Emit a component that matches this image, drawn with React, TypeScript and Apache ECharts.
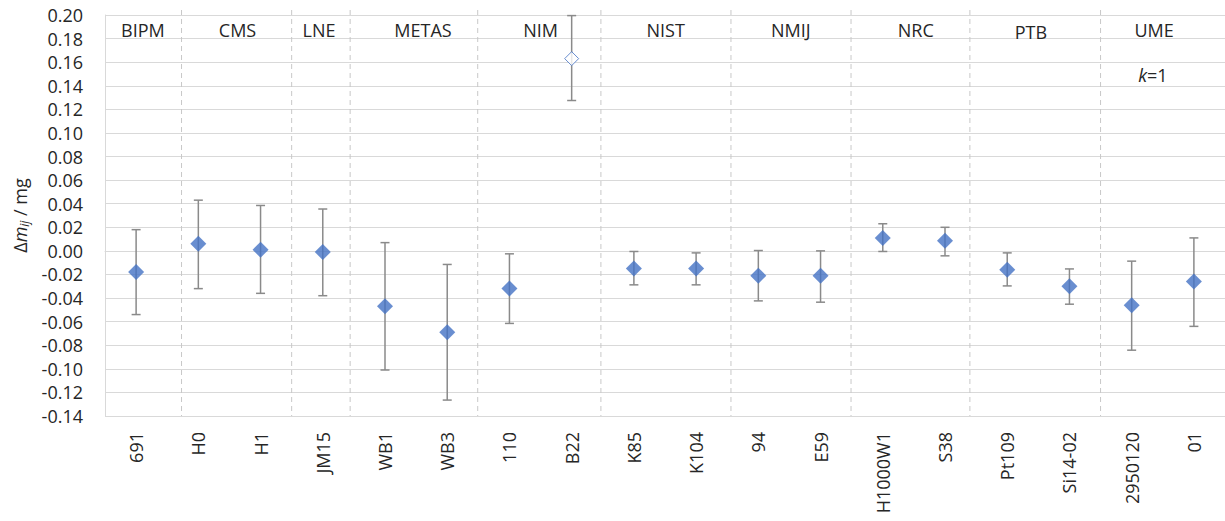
import React, { useEffect, useRef } from "react";
import * as echarts from "echarts";

const categories = ["691", "H0", "H1", "JM15", "WB1", "WB3", "110", "B22", "K85", "K104", "94", "E59", "H1000W1", "S38", "Pt109", "Si14-02", "2950120", "01"];
const values = [-0.018, 0.006, 0.001, -0.001, -0.047, -0.069, -0.032, 0.163, -0.015, -0.015, -0.021, -0.021, 0.011, 0.0085, -0.016, -0.030, -0.046, -0.026];
const upper = [0.018, 0.043, 0.0385, 0.0355, 0.007, -0.0115, -0.0025, 0.1995, -0.0005, -0.0017, 0.0003, 0.0, 0.023, 0.020, -0.0017, -0.0153, -0.0087, 0.011];
const lower = [-0.054, -0.032, -0.036, -0.038, -0.101, -0.1265, -0.0615, 0.1275, -0.0288, -0.0288, -0.0424, -0.0435, -0.0005, -0.0042, -0.0297, -0.0452, -0.0842, -0.064];
const hollowCategories = ["B22"];
const groupNames = ["BIPM", "CMS", "LNE", "METAS", "NIM", "NIST", "NMIJ", "NRC", "PTB", "UME"];
const groupLabelPos = [0.61, 2.13, 3.44, 5.11, 7.0, 9.01, 11.02, 13.03, 14.88, 16.86];
const groupLabelY = [0.187, 0.187, 0.187, 0.187, 0.187, 0.187, 0.187, 0.187, 0.186, 0.187];
const separatorPos = [1.23, 3.0, 3.94, 5.99, 7.97, 10.06, 11.99, 13.9, 16.0];
const yTicks = { min: -0.14, max: 0.2, interval: 0.02 };
const noteText = ["k", "=1"];
const notePos = [16.84, 0.149];

const FONT = "Open Sans";
const TXT = "#262626";
const BLUE = "#4472C4";

export default function App() {
  const ref = useRef<HTMLDivElement>(null);
  useEffect(() => {
    if (!ref.current) return;
    const chart = echarts.init(ref.current, null, { renderer: "svg" });
    const option: any = {
      animation: false,
      backgroundColor: "#ffffff",
      grid: { left: 105, top: 15, width: 1128, height: 401, containLabel: false },
      xAxis: [
        {
          type: "category",
          data: categories,
          boundaryGap: true,
          axisLine: { show: true, lineStyle: { color: "#d9d9d9", width: 1 } },
          axisTick: { show: false },
          axisLabel: { rotate: 90, margin: 16, fontFamily: FONT, fontSize: 18, color: TXT, interval: 0 },
          splitLine: { show: false },
        },
        { type: "value", min: 0, max: 18, show: false },
      ],
      yAxis: {
        type: "value",
        min: yTicks.min,
        max: yTicks.max,
        interval: yTicks.interval,
        axisLine: { show: true, lineStyle: { color: "#d9d9d9", width: 1 } },
        axisTick: { show: false },
        axisLabel: {
          margin: 22,
          fontFamily: FONT,
          fontSize: 18,
          color: TXT,
          formatter: (v: number) => (Math.abs(v) < 1e-9 ? 0 : v).toFixed(2),
        },
        splitLine: { show: true, lineStyle: { color: "#d9d9d9", width: 1 } },
        name: "Δ{m|m}{s|ij} / mg",
        nameLocation: "middle",
        nameRotate: 90,
        nameGap: 70,
        nameTextStyle: {
          fontFamily: FONT,
          fontSize: 18,
          color: TXT,
          rich: {
            m: { fontFamily: FONT, fontSize: 18, fontStyle: "italic", color: TXT },
            s: { fontFamily: FONT, fontSize: 12, fontStyle: "italic", color: TXT, padding: [10, 0, 0, 0] },
          },
        },
      },
      series: [
        {
          type: "custom",
          xAxisIndex: 1,
          yAxisIndex: 0,
          silent: true,
          z: 1,
          data: separatorPos.map((p) => [p, 0]),
          renderItem: (params: any, api: any) => {
            const top = api.coord([api.value(0), yTicks.max]);
            const bot = api.coord([api.value(0), yTicks.min]);
            return {
              type: "line",
              shape: { x1: top[0], y1: top[1] - 5, x2: bot[0], y2: bot[1] },
              style: { stroke: "#c8c8c8", lineWidth: 1, lineDash: [5, 4] },
            };
          },
        },
        {
          type: "custom",
          xAxisIndex: 0,
          yAxisIndex: 0,
          silent: true,
          z: 2,
          encode: { x: 0, y: [1, 2] },
          data: categories.map((_, i) => [i, lower[i], upper[i]]),
          renderItem: (params: any, api: any) => {
            const lo = api.coord([api.value(0), api.value(1)]);
            const hi = api.coord([api.value(0), api.value(2)]);
            const w = 4.5;
            const st = { stroke: "#8a8a8a", lineWidth: 1.5 };
            return {
              type: "group",
              children: [
                { type: "line", shape: { x1: lo[0], y1: lo[1], x2: hi[0], y2: hi[1] }, style: st },
                { type: "line", shape: { x1: hi[0] - w, y1: hi[1], x2: hi[0] + w, y2: hi[1] }, style: st },
                { type: "line", shape: { x1: lo[0] - w, y1: lo[1], x2: lo[0] + w, y2: lo[1] }, style: st },
              ],
            };
          },
        },
        {
          type: "scatter",
          xAxisIndex: 0,
          yAxisIndex: 0,
          z: 3,
          symbol: "diamond",
          symbolSize: 16,
          data: categories.map((c, i) =>
            hollowCategories.includes(c)
              ? { value: [i, values[i]], symbolSize: 14, itemStyle: { color: "#ffffff", borderColor: BLUE, borderWidth: 1 } }
              : { value: [i, values[i]], itemStyle: { color: BLUE } }
          ),
        },
        {
          type: "custom",
          xAxisIndex: 1,
          yAxisIndex: 0,
          silent: true,
          z: 4,
          data: groupNames.map((_, i) => [groupLabelPos[i], groupLabelY[i]]),
          renderItem: (params: any, api: any) => {
            const p = api.coord([api.value(0), api.value(1)]);
            return {
              type: "text",
              x: p[0],
              y: p[1],
              style: {
                text: groupNames[params.dataIndex],
                fontFamily: FONT,
                fontSize: 18,
                fill: TXT,
                align: "center",
                verticalAlign: "middle",
              },
            };
          },
        },
        {
          type: "custom",
          xAxisIndex: 1,
          yAxisIndex: 0,
          silent: true,
          z: 4,
          data: [notePos],
          renderItem: (params: any, api: any) => {
            const p = api.coord([api.value(0), api.value(1)]);
            return {
              type: "text",
              x: p[0],
              y: p[1],
              style: {
                text: "{k|" + noteText[0] + "}{n|" + noteText[1] + "}",
                align: "center",
                verticalAlign: "middle",
                rich: {
                  k: { fontFamily: FONT, fontSize: 18, fontStyle: "italic", fill: TXT },
                  n: { fontFamily: FONT, fontSize: 18, fill: TXT },
                },
              },
            };
          },
        },
      ],
    };
    chart.setOption(option);
    return () => chart.dispose();
  }, []);
  return <div ref={ref} style={{ position: "fixed", left: 0, top: 0, width: 1225, height: 521 }} />;
}
